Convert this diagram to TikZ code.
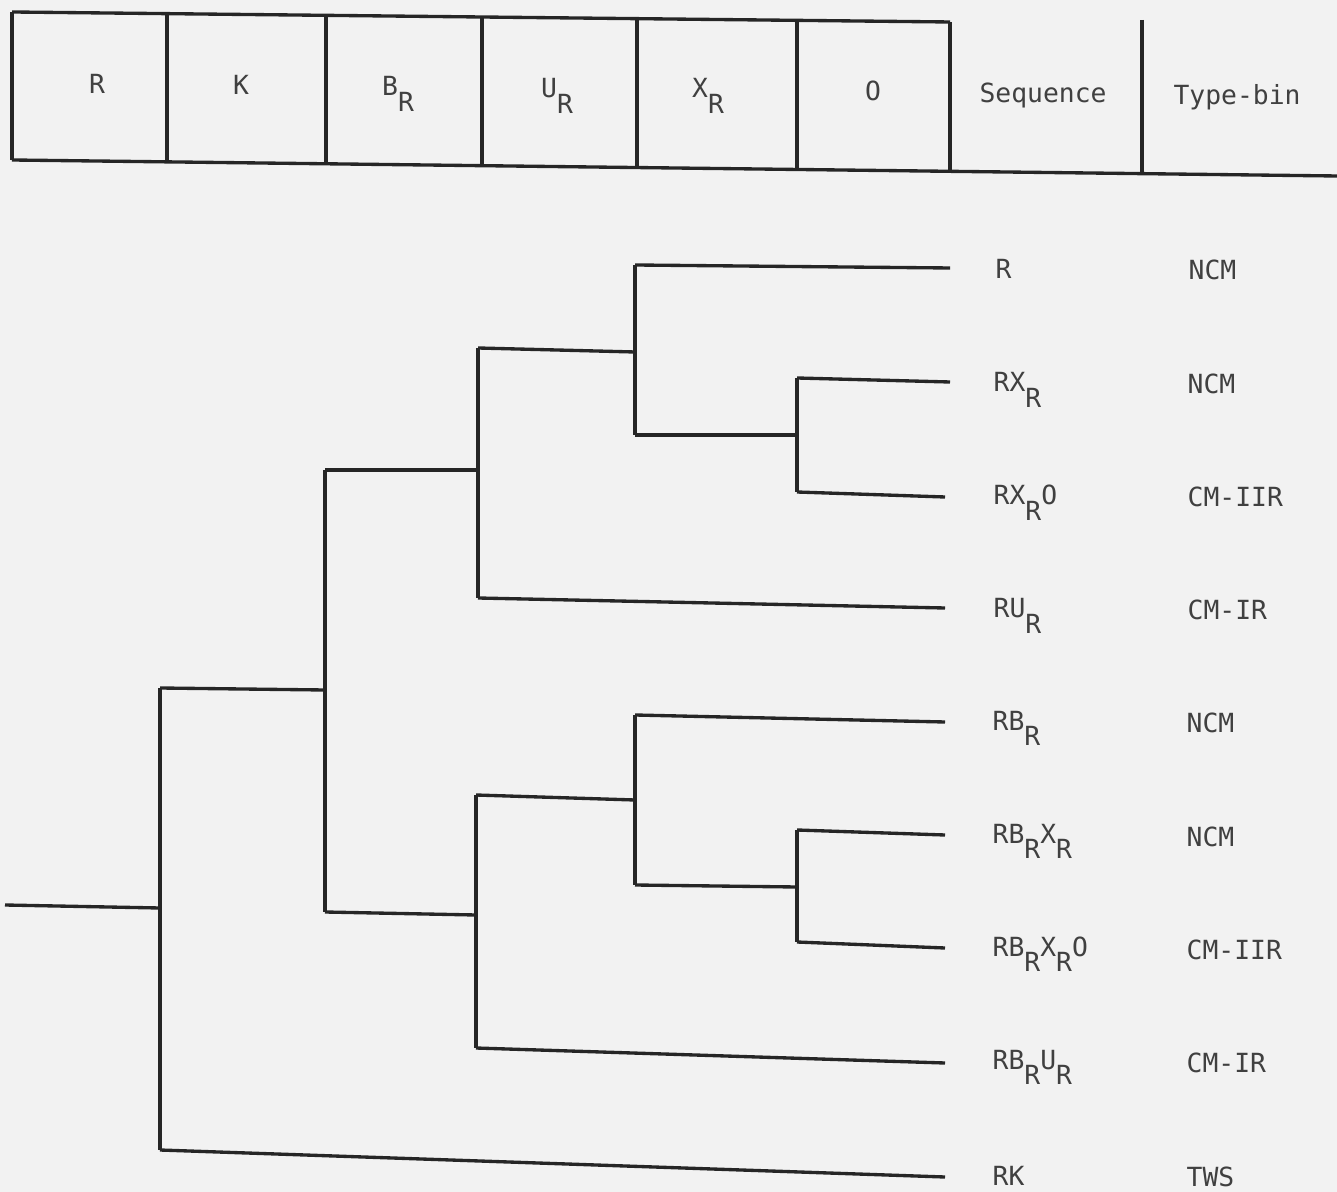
\documentclass[tikz,border=0pt]{standalone}
\usepackage{fontspec}
\setmonofont{DejaVu Sans Mono}
\newcommand\lowR{\raisebox{-1.1ex}{R}}
\begin{document}
\begin{tikzpicture}[x=0.01cm,y=-0.01cm,
  ln/.style={line width=0.95pt,draw=black!85},
  txt/.style={font=\ttfamily\fontsize{7.5}{9}\selectfont,text=black!75,inner sep=0pt},
  seq/.style={txt,anchor=base west},
  hdr/.style={txt,anchor=center}]
\fill[black!5] (0,0) rectangle (1337,1192);
\useasboundingbox (0,0) rectangle (1337,1192);
% ---- header ----
\coordinate (t0) at (12,12);    \coordinate (b0) at (12,160);
\coordinate (t1) at (167,13.7); \coordinate (b1) at (167,161.9);
\coordinate (t2) at (326,15.3); \coordinate (b2) at (326,163.8);
\coordinate (t3) at (482,17.0); \coordinate (b3) at (482,165.7);
\coordinate (t4) at (637,18.7); \coordinate (b4) at (637,167.5);
\coordinate (t5) at (797,20.4); \coordinate (b5) at (797,169.5);
\coordinate (t6) at (950,22);   \coordinate (b6) at (950,171.3);
\coordinate (t7) at (1142,20);  \coordinate (b7) at (1142,173.6);
\coordinate (b8) at (1337,176);
\draw[ln] (t0) -- (t6);
\draw[ln] (b0) -- (b8);
\foreach \i in {0,...,7} \draw[ln] (t\i) -- (b\i);
\node[hdr] (hR) at (97,84) {R};
\node[hdr] (hK) at (241,85) {K};
\node[hdr] (hB) at (398,94) {B\lowR};
\node[hdr] (hU) at (557,96) {U\lowR};
\node[hdr] (hX) at (708,96) {X\lowR};
\node[hdr] (hO) at (873,91) {O};
\node[hdr] (hS) at (1043,95) {Sequence};
\node[hdr] (hT) at (1237,97) {Type-bin};
% ---- tree ----
\coordinate (in) at (5,905);
\coordinate (a) at (160,908);
\coordinate (aT) at (160,688); \coordinate (aB) at (160,1150);
\coordinate (bT) at (325,470); \coordinate (b) at (325,690); \coordinate (bB) at (325,912);
\coordinate (cT) at (478,348); \coordinate (c) at (478,470); \coordinate (cB) at (478,598);
\coordinate (dT) at (635,265); \coordinate (d) at (635,352); \coordinate (dB) at (635,435);
\coordinate (eT) at (797,378); \coordinate (e) at (797,435); \coordinate (eB) at (797,492);
\coordinate (fT) at (476,795); \coordinate (f) at (476,915); \coordinate (fB) at (476,1048);
\coordinate (gT) at (635,715); \coordinate (g) at (635,800); \coordinate (gB) at (635,885);
\coordinate (hT2) at (797,830); \coordinate (h) at (797,887); \coordinate (hB2) at (797,942);
% ends
\coordinate (e1) at (950,268);
\coordinate (e2) at (950,382);
\coordinate (e3) at (945,497);
\coordinate (e4) at (945,608);
\coordinate (e5) at (945,722);
\coordinate (e6) at (945,835);
\coordinate (e7) at (945,948);
\coordinate (e8) at (945,1063);
\coordinate (e9) at (945,1177);
\draw[ln] (in) -- (a);
\draw[ln] (aT) -- (aB);
\draw[ln] (aT) -- (b);
\draw[ln] (bT) -- (bB);
\draw[ln] (bT) -- (c);
\draw[ln] (bB) -- (f);
\draw[ln] (cT) -- (cB);
\draw[ln] (cT) -- (d);
\draw[ln] (dT) -- (dB);
\draw[ln] (dB) -- (e);
\draw[ln] (eT) -- (eB);
\draw[ln] (fT) -- (fB);
\draw[ln] (fT) -- (g);
\draw[ln] (gT) -- (gB);
\draw[ln] (gB) -- (h);
\draw[ln] (hT2) -- (hB2);
\draw[ln] (dT) -- (e1);
\draw[ln] (eT) -- (e2);
\draw[ln] (eB) -- (e3);
\draw[ln] (cB) -- (e4);
\draw[ln] (gT) -- (e5);
\draw[ln] (hT2) -- (e6);
\draw[ln] (hB2) -- (e7);
\draw[ln] (fB) -- (e8);
\draw[ln] (aB) -- (e9);
% ---- labels ----
\node[seq] (s1) at (995,279) {R};
\node[seq] (s2) at (993,392) {RX\lowR};
\node[seq] (s3) at (993,505) {RX\lowR O};
\node[seq] (s4) at (993,618) {RU\lowR};
\node[seq] (s5) at (992,730) {RB\lowR};
\node[seq] (s6) at (992,843) {RB\lowR X\lowR};
\node[seq] (s7) at (992,956) {RB\lowR X\lowR O};
\node[seq] (s8) at (992,1069) {RB\lowR U\lowR};
\node[seq] (s9) at (992,1185) {RK};
\node[seq] (y1) at (1188,280) {NCM};
\node[seq] (y2) at (1187,394) {NCM};
\node[seq] (y3) at (1187,507) {CM-IIR};
\node[seq] (y4) at (1187,620) {CM-IR};
\node[seq] (y5) at (1186,732) {NCM};
\node[seq] (y6) at (1186,846) {NCM};
\node[seq] (y7) at (1186,959) {CM-IIR};
\node[seq] (y8) at (1186,1072) {CM-IR};
\node[seq] (y9) at (1186,1186) {TWS};
\end{tikzpicture}
\end{document}
